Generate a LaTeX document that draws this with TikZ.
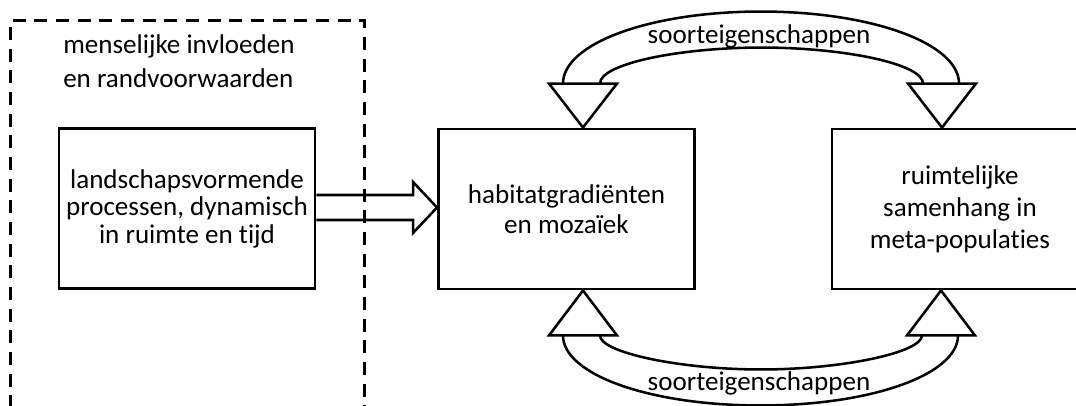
\documentclass[tikz,border=0pt]{standalone}
\usepackage{fontspec}
\setmainfont{Carlito}[Ligatures=NoCommon]
\usetikzlibrary{calc}
\begin{document}
\begin{tikzpicture}[x=0.75pt,y=-0.75pt,
  box/.style={draw, line width=2.2pt, minimum width=192pt, minimum height=120pt,
    align=center, inner sep=0pt},
  blockarrow/.style={draw, line width=1.9pt, line join=miter},
  frame/.style={draw, line width=2.2pt, dash pattern=on 9.75pt off 6.5pt},
  lbl/.style={font=\fontsize{20.3}{24}\selectfont, inner sep=0pt}]
\useasboundingbox (0,0) rectangle (1076,405);
\clip (0,0) rectangle (1076,405);

% the three boxes
\node[box, font=\fontsize{20.3}{20.6}\selectfont] (proc) at (187,208.5)
  {landschapsvormende\\processen, dynamisch\\in ruimte en tijd};
\node[box, font=\fontsize{20.3}{22.5}\selectfont] (hab) at (566.5,209)
  {habitatgradiënten\\en mozaïek};
\node[box, font=\fontsize{20.3}{24}\selectfont] (meta) at (960,209)
  {ruimtelijke\\samenhang in\\meta-populaties};

% heading of the dashed zone
\node[lbl, anchor=base west] (inf1) at (63,53) {menselijke invloeden};
\node[lbl, anchor=base west] (inf2) at (63,87) {en randvoorwaarden};

% block arrow: processes -> habitat
\coordinate (tip) at ($(hab.west)+(0,-1.5)$);
\draw[blockarrow] ($(proc.east)+(0,-13.5)$) -- ($(tip)+(-24,-12.5)$)
  -- ($(tip)+(-24,-25.5)$) -- (tip) -- ($(tip)+(-24,25.5)$)
  -- ($(tip)+(-24,12.5)$) -- ($(proc.east)+(0,11.5)$);

% arrow heads of the curved arrows
\coordinate (hT) at ($(hab.north)+(16.5,0)$);
\coordinate (mT) at ($(meta.north)+(-18,0)$);
\coordinate (hB) at ($(hab.south)+(16.5,0)$);
\coordinate (mB) at ($(meta.south)+(-19,0)$);
\foreach \a in {hT,mT}
  \draw[blockarrow] (\a) -- ++(-34,-44) -- ++(68,0) -- cycle;
\foreach \a in {hB,mB}
  \draw[blockarrow] (\a) -- ++(-34,45) -- ++(68,0) -- cycle;

% upper curved arrow
\coordinate (oL) at ($(hT)+(-20,-44)$);
\coordinate (oR) at ($(mT)+(17,-44)$);
\coordinate (oM) at ($(oL)!0.5!(oR)+(0,-72)$);
\coordinate (iL) at ($(hT)+(17,-44)$);
\coordinate (iR) at ($(mT)+(-19,-44)$);
\coordinate (iM) at ($(iL)!0.5!(iR)+(0,-36)$);
\draw[blockarrow] (oL) .. controls +(0,-40) and +(-111,0) .. (oM)
  .. controls +(111,0) and +(0,-40) .. (oR);
\draw[blockarrow] (iL) .. controls +(0,-20) and +(-81,0) .. (iM)
  .. controls +(81,0) and +(0,-20) .. (iR);

% lower curved arrow
\coordinate (bL) at ($(hB)+(-20,45)$);
\coordinate (bR) at ($(mB)+(17,45)$);
\coordinate (bM) at ($(bL)!0.5!(bR)+(0,70)$);
\coordinate (jL) at ($(hB)+(17,45)$);
\coordinate (jR) at ($(mB)+(-19,45)$);
\coordinate (jM) at ($(jL)!0.5!(jR)+(0,34)$);
\draw[blockarrow] (bL) .. controls +(0,39) and +(-111,0) .. (bM)
  .. controls +(111,0) and +(0,39) .. (bR);
\draw[blockarrow] (jL) .. controls +(0,17) and +(-81,0) .. (jM)
  .. controls +(81,0) and +(0,17) .. (jR);

\node[lbl, anchor=base] (s1) at (759,43) {soorteigenschappen};
\node[lbl, anchor=base] (s2) at (759,390) {soorteigenschappen};

% dashed zone of human influence
\draw[frame] (10.5,430) -- (10.5,20.5) -- (364.5,20.5) -- (364.5,430);
\end{tikzpicture}
\end{document}
